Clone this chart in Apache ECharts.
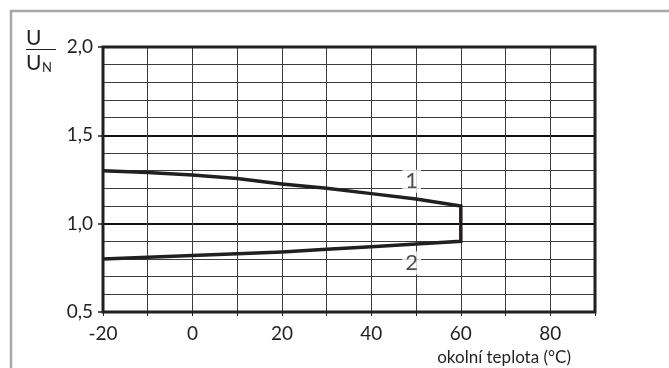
<!DOCTYPE html>
<html>
<head>
<meta charset="utf-8">
<script src="https://cdn.jsdelivr.net/npm/echarts@6/dist/echarts.min.js"></script>
<style>
  html, body { margin: 0; padding: 0; background: #fff; }
  #chart { width: 669px; height: 368px; }
</style>
</head>
<body>
<div id="chart"></div>
<script>
// Ambient temperature (°C) sample points
const temps = [-20, -10, 0, 10, 20, 30, 40, 50, 60];
// Permitted voltage ratio U/UN: upper limit (1) and lower limit (2)
const upperLimit = [1.30, 1.29, 1.275, 1.255, 1.225, 1.20, 1.17, 1.14, 1.10];
const lowerLimit = [0.80, 0.81, 0.82, 0.83, 0.84, 0.855, 0.87, 0.885, 0.90];
// Curve numbers and where they sit
const curveNames = ['1', '2'];
const curveNamePos = [[49, 1.24], [49, 0.778]];
const xTickLabels = { '-20': '-20', '0': '0', '20': '20', '40': '40', '60': '60', '80': '80' };
const yTickLabels = { '0.5': '0,5', '1': '1,0', '1.5': '1,5', '2': '2,0' };

const ink = '#231f20';
const font = 'Lato, "DejaVu Sans", sans-serif';

// Closed envelope: upper curve out to 60 °C, down the vertical edge, back along the lower curve
const envelope = temps.map((t, i) => [t, upperLimit[i]])
  .concat(temps.map((t, i) => [t, lowerLimit[i]]).reverse());

const chart = echarts.init(document.getElementById('chart'), null, { renderer: 'canvas' });
chart.setOption({
  animation: false,
  backgroundColor: '#fff',
  grid: { left: 103, top: 47, right: 74, bottom: 56, show: true,
          borderColor: ink, borderWidth: 3, backgroundColor: 'transparent', z: 5 },
  xAxis: {
    type: 'value', min: -20, max: 90, interval: 10,
    axisLine: { show: false },
    axisTick: { show: true, length: 4, lineStyle: { color: ink, width: 1 } },
    axisLabel: {
      color: ink, fontFamily: font, fontSize: 19, margin: 12,
      formatter: v => xTickLabels[String(v)] || ''
    },
    splitLine: { show: true, lineStyle: { color: '#3c3c3c', width: 1 } }
  },
  yAxis: [
    {
      type: 'value', min: 0.5, max: 2.0, interval: 0.1,
      axisLine: { show: false }, axisTick: { show: false }, axisLabel: { show: false },
      splitLine: { show: true, lineStyle: { color: '#3c3c3c', width: 1 } }
    },
    {
      type: 'value', min: 0.5, max: 2.0, interval: 0.5, position: 'left',
      axisLine: { show: false },
      axisTick: { show: true, length: 5, lineStyle: { color: ink, width: 1.5 } },
      axisLabel: {
        color: ink, fontFamily: font, fontSize: 19, margin: 10,
        formatter: v => yTickLabels[String(+v.toFixed(1))] || ''
      },
      splitLine: { show: true, lineStyle: { color: '#111', width: 2 } }
    }
  ],
  series: [
    {
      type: 'line', data: envelope, yAxisIndex: 0, showSymbol: false, z: 6,
      lineStyle: { color: ink, width: 3.5, join: 'miter', cap: 'butt' }
    },
    {
      type: 'scatter', yAxisIndex: 0, symbolSize: 0, z: 7,
      data: curveNamePos.map((p, i) => ({ value: p, name: curveNames[i] })),
      label: {
        show: true, position: 'inside', formatter: p => p.name,
        color: ink, fontFamily: font, fontSize: 22,
        backgroundColor: '#fff', padding: [1, 3, 0, 3]
      }
    }
  ],
  graphic: [
    { type: 'rect', shape: { x: 11, y: 11, width: 700, height: 400 },
      style: { fill: 'none', stroke: '#a8a8a8', lineWidth: 2.5 }, z: 0 },
    { type: 'text', left: 26, top: 28,
      style: { text: 'U', fill: ink, font: '21px ' + font } },
    { type: 'rect', shape: { x: 26, y: 49, width: 30, height: 1 },
      style: { fill: ink } },
    { type: 'text', left: 26, top: 53,
      style: { text: 'U', fill: ink, font: '21px ' + font } },
    { type: 'text', left: 42, top: 61,
      style: { text: 'N', fill: ink, font: '13px ' + font } },
    { type: 'text', right: 669 - 571, top: 349,
      style: { text: 'okolní teplota (°C)', fill: ink, font: '17px ' + font } }
  ]
});
</script>
</body>
</html>
